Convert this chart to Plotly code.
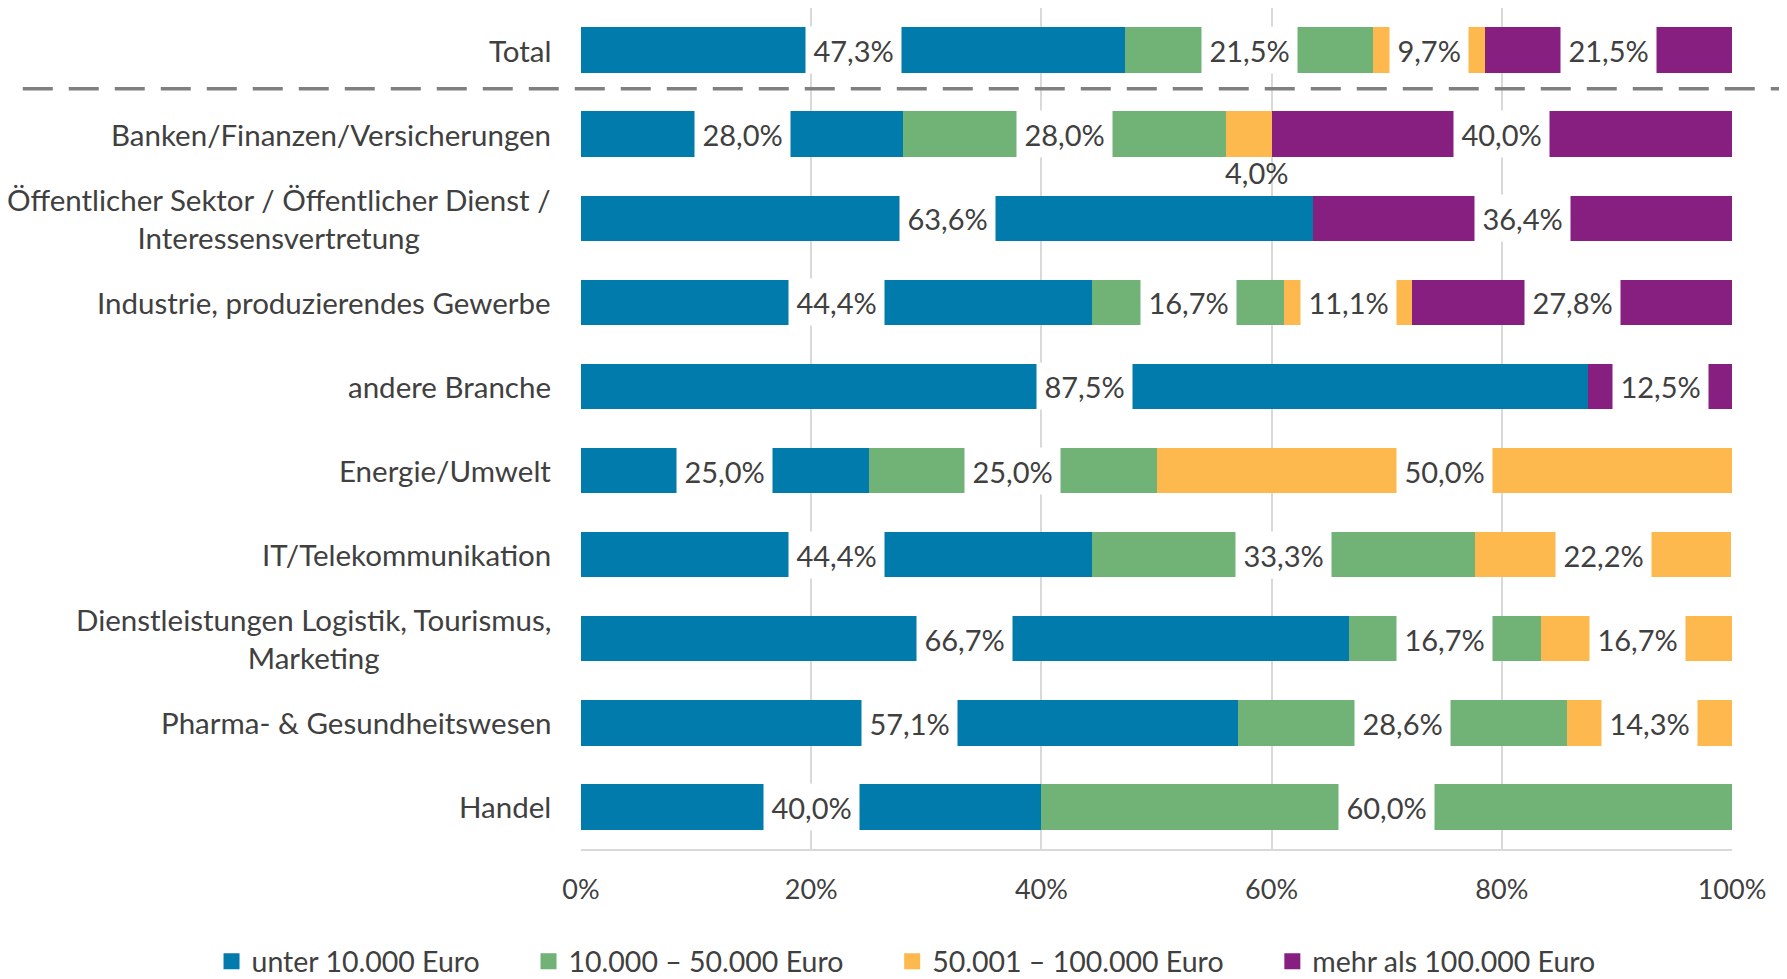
import plotly.graph_objects as go

categories = [
    "Total",
    "Banken/Finanzen/Versicherungen",
    "Öffentlicher Sektor / Öffentlicher Dienst /<br>Interessensvertretung",
    "Industrie, produzierendes Gewerbe",
    "andere Branche",
    "Energie/Umwelt",
    "IT/Telekommunikation",
    "Dienstleistungen Logistik, Tourismus,<br>Marketing",
    "Pharma- & Gesundheitswesen",
    "Handel",
]
series_names = ["unter 10.000 Euro", "10.000 – 50.000 Euro", "50.001 – 100.000 Euro", "mehr als 100.000 Euro"]
under_10k = [47.3, 28.0, 63.6, 44.4, 87.5, 25.0, 44.4, 66.7, 57.1, 40.0]
k10_50 = [21.5, 28.0, 0, 16.7, 0, 25.0, 33.3, 16.7, 28.6, 60.0]
k50_100 = [9.7, 4.0, 0, 11.1, 0, 50.0, 22.2, 16.7, 14.3, 0]
over_100k = [21.5, 40.0, 36.4, 27.8, 12.5, 0, 0, 0, 0, 0]
colors = ["#007BAB", "#71B276", "#FDB94E", "#861F80"]
x_ticks = [0, 20, 40, 60, 80, 100]
x_tick_labels = ["0%", "20%", "40%", "60%", "80%", "100%"]

series = [under_10k, k10_50, k50_100, over_100k]
ids = list(range(len(categories)))

FONT = "Lato"
TXT = "#404040"
NB = "&nbsp;"
LEGEND_GAP = "&nbsp;" * 6

fig = go.Figure()
for name, vals, col in zip(series_names, series, colors):
    fig.add_trace(go.Bar(
        y=ids, x=vals, name=name, orientation="h", legendgroup=name, showlegend=False,
        marker=dict(color=col, line=dict(width=0)),
        width=0.54, hovertemplate=name + ": %{x}%<extra></extra>",
    ))
# legend entries (square swatches like the reference)
for name, col in zip(series_names, colors):
    fig.add_trace(go.Scatter(
        x=[None], y=[None], mode="markers", name=name + LEGEND_GAP, legendgroup=name,
        marker=dict(symbol="square", size=16, color=col), showlegend=True,
    ))

annotations = []
for ci in ids:
    cum = 0.0
    for si, vals in enumerate(series):
        v = vals[ci]
        if v > 0:
            mid = cum + v / 2
            txt = f"{v:.1f}".replace(".", ",") + "%"
            if ci == 1 and si == 2:
                annotations.append(dict(x=mid, y=ci, xref="x", yref="y", text=txt,
                                        showarrow=False, yshift=-38, xshift=8,
                                        font=dict(family=FONT, size=29, color=TXT)))
            else:
                annotations.append(dict(x=mid, y=ci, xref="x", yref="y", text=NB + txt + NB,
                                        showarrow=False, bgcolor="white", height=46,
                                        borderpad=0,
                                        font=dict(family=FONT, size=29, color=TXT)))
        cum += v

for ci, cat in enumerate(categories):
    annotations.append(dict(x=-0.024, y=ci, xref="paper", yref="y", text=cat,
                            showarrow=False, xanchor="right", align="center",
                            font=dict(family=FONT, size=29.5, color=TXT)))

fig.add_shape(type="line", xref="paper", yref="y", x0=-0.485, x1=1.07, y0=0.46, y1=0.46,
              line=dict(color="#808080", width=3.5, dash="30px,16px"))

fig.update_layout(
    barmode="stack",
    width=1779, height=971,
    margin=dict(l=573, r=55, t=0, b=130, autoexpand=False),
    plot_bgcolor="white", paper_bgcolor="white",
    font=dict(family=FONT, size=28, color=TXT),
    annotations=annotations,
    showlegend=True,
    legend=dict(orientation="h", x=-0.321, xanchor="left", y=-0.134, yanchor="middle",
                font=dict(family=FONT, size=28.5, color=TXT), itemwidth=30,
                itemsizing="trace", traceorder="normal"),
    xaxis=dict(range=[0, 100], tickvals=x_ticks, ticktext=x_tick_labels,
               showgrid=True, gridcolor="#D9D9D9", gridwidth=1.5,
               showline=True, linecolor="#D9D9D9", linewidth=2, mirror=True,
               zeroline=False, ticks="", ticklabelstandoff=16,
               tickfont=dict(family=FONT, size=27, color=TXT)),
    yaxis=dict(tickvals=ids, showticklabels=False, range=[9.5, -0.5],
               showgrid=False, zeroline=False, showline=False),
)

fig.write_html("out.html")
